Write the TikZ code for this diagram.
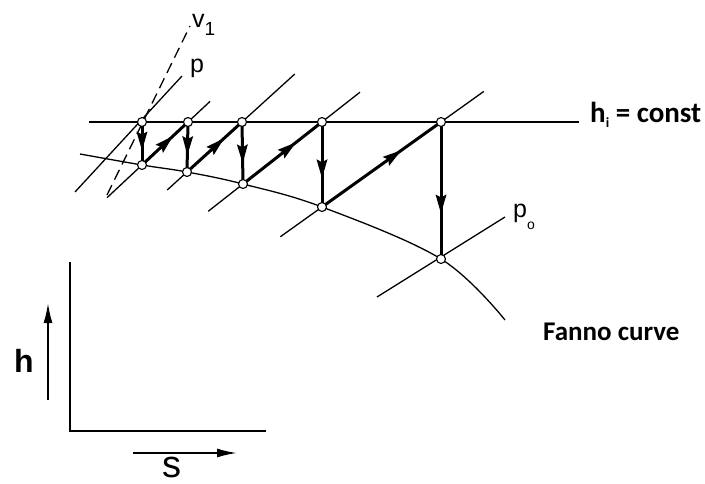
\documentclass[tikz,border=0pt]{standalone}
\usepackage{fontspec}
\setmainfont{Carlito}
\newfontfamily\arialfont{Liberation Sans}
\usetikzlibrary{arrows.meta,decorations.markings,calc}
\tikzset{
  thinline/.style={line width=1.3pt},
  heavy/.style={line width=3pt, postaction={decorate},
    decoration={markings, mark=at position #1 with {\fill (1pt,0pt) -- (-18pt,5.5pt) -- (-15pt,0pt) -- (-18pt,-5.5pt) -- cycle;}}},
  axisline/.style={line width=1.8pt},
  axisarrow/.style={line width=1.8pt, -{Latex[length=20pt,width=9pt]}},
  ptnode/.style={circle, draw, line width=1.1pt, fill=white, inner sep=0pt, minimum size=9pt},
  biglabel/.style={font=\bfseries\fontsize{27}{27}\selectfont, inner sep=0pt},
  thinlabel/.style={font=\arialfont\fontsize{25}{25}\selectfont, inner sep=0pt}
}
\begin{document}
\begin{tikzpicture}[x=1pt,y=-1pt]
\useasboundingbox (0,0) rectangle (705,484);
% state points
\coordinate (T1) at (142,122); \coordinate (B1) at (142,165);
\coordinate (T2) at (188,122); \coordinate (B2) at (187,172);
\coordinate (T3) at (242,122); \coordinate (B3) at (243,184);
\coordinate (T4) at (322,122); \coordinate (B4) at (322,207);
\coordinate (T5) at (441,122); \coordinate (B5) at (441,259);
% free ends
\coordinate (Hs) at (89,122); \coordinate (He) at (579,122);
\coordinate (F0) at (80,154); \coordinate (Fe) at (505,320);
\coordinate (L1a) at (75,192); \coordinate (L1b) at (182,76);
\coordinate (Va) at (107,195); \coordinate (Vb) at (190,26);
\coordinate (L2a) at ($(B1)!-0.76!(T2)$); \coordinate (L2b) at ($(B1)!1.48!(T2)$);
\coordinate (L3a) at ($(B2)!-0.36!(T3)$); \coordinate (L3b) at ($(B2)!1.96!(T3)$);
\coordinate (L4a) at ($(B3)!-0.44!(T4)$); \coordinate (L4b) at ($(B3)!1.48!(T4)$);
\coordinate (L5a) at ($(B4)!-0.35!(T5)$); \coordinate (L5b) at ($(B4)!1.36!(T5)$);
\coordinate (L0a) at (377,297); \coordinate (L0b) at (505,217);
% h_i = const line
\draw[thinline] (Hs) -- (He);
% Fanno curve
\draw[thinline] plot[smooth, tension=0.6] coordinates {(F0) (B1) (B2) (B3) (B4) (B5) (Fe)};
% isobars
\draw[thinline] (L1a) -- (L1b);
\draw[thinline] (L2a) -- (L2b);
\draw[thinline] (L3a) -- (L3b);
\draw[thinline] (L4a) -- (L4b);
\draw[thinline] (L5a) -- (L5b);
\draw[thinline] (L0a) -- (L0b);
% isochore
\draw[thinline, dash pattern=on 11pt off 6pt] (Va) -- (Vb);
% process arrows
\draw[heavy=0.64] (T1) -- (B1);
\draw[heavy=0.64] (T2) -- (B2);
\draw[heavy=0.65] (T3) -- (B3);
\draw[heavy=0.65] (T4) -- (B4);
\draw[heavy=0.66] (T5) -- (B5);
\draw[heavy=0.66] (B1) -- (T2);
\draw[heavy=0.66] (B2) -- (T3);
\draw[heavy=0.66] (B3) -- (T4);
\draw[heavy=0.66] (B4) -- (T5);
% points
\foreach \n in {1,...,5}{
  \node[ptnode] (t\n) at (T\n) {};
  \node[ptnode] (b\n) at (B\n) {};
}
% labels
\node[biglabel, anchor=base west, font=\bfseries\fontsize{29}{29}\selectfont] (hlab) at (590,123) {h\raisebox{-5pt}{\fontsize{14}{14}\selectfont i} = const};
\node[biglabel, anchor=base west] (fanno) at (543,340) {Fanno curve};
\node[thinlabel, anchor=base west] (plab) at (190,73) {p};
\node[thinlabel, anchor=base west] (vlab) at (192,28) {v\raisebox{-8pt}{\fontsize{19}{19}\selectfont 1}};
\node[thinlabel, anchor=base west] (p0lab) at (513,218) {p\raisebox{-12pt}{\fontsize{14}{14}\selectfont o}};
% axes
\coordinate (O) at (70,431); \coordinate (Ay) at (70,262); \coordinate (Ax) at (266,431);
\draw[axisline] (Ay) -- (O) -- (Ax);
\coordinate (ha) at (48,400); \coordinate (hb) at (48,303);
\coordinate (sa) at (133,453); \coordinate (sb) at (237,453);
\draw[axisarrow] (ha) -- (hb);
\draw[axisarrow] (sa) -- (sb);
\node[inner sep=0pt, anchor=base west, font=\arialfont\bfseries\fontsize{32}{32}\selectfont] (hax) at (14,372) {h};
\node[inner sep=0pt, anchor=base west, font=\arialfont\fontsize{38}{38}\selectfont] (sax) at (162,477) {s};
\end{tikzpicture}
\end{document}
